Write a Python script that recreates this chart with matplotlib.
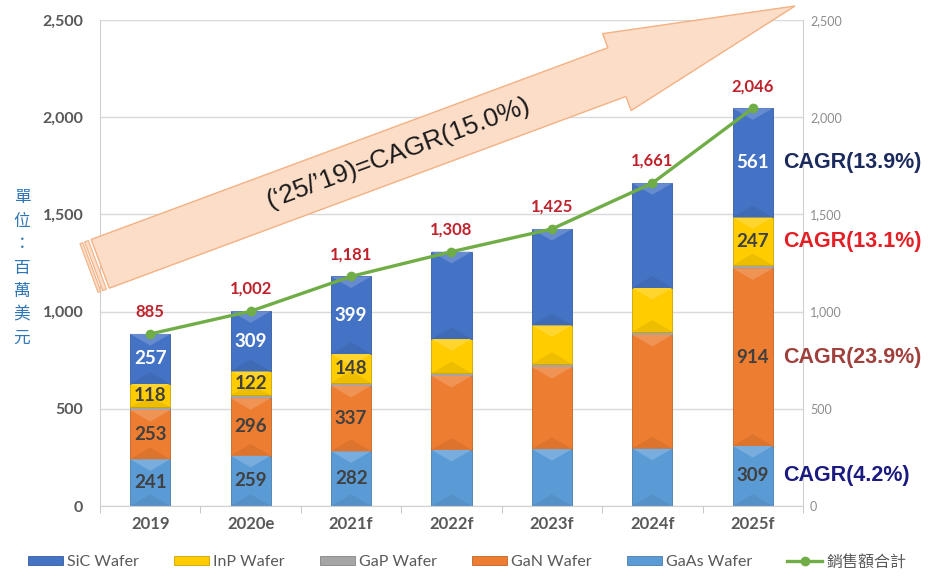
import numpy as np
import matplotlib
matplotlib.use('Agg')
import matplotlib.pyplot as plt
from matplotlib.patches import Polygon
from matplotlib.colors import to_rgb

years = ['2019', '2020e', '2021f', '2022f', '2023f', '2024f', '2025f']
gaas = [241, 259, 282, 289, 293, 296, 309]
gan = [253, 296, 337, 380, 422, 585, 914]
gap = [16, 16, 15, 14, 15, 15, 15]
inp = [118, 122, 148, 176, 200, 226, 247]
sic = [257, 309, 399, 449, 495, 539, 561]
total = [885, 1002, 1181, 1308, 1425, 1661, 2046]
labeled = [True, True, True, False, False, False, True]

series_names = ['GaAs Wafer', 'GaN Wafer', 'GaP Wafer', 'InP Wafer', 'SiC Wafer']
series_vals = [gaas, gan, gap, inp, sic]
series_cols = ['#5B9BD5', '#ED7D31', '#A5A5A5', '#FFCC00', '#4472C4']
label_cols = ['#404040', '#404040', None, '#404040', 'white']

cagr_text = ['CAGR(4.2%)', 'CAGR(23.9%)', None, 'CAGR(13.1%)', 'CAGR(13.9%)']
cagr_cols = ['#1A1A80', '#A0403C', None, '#E31E24', '#1B2A5C']

W, H = 936, 577
fig = plt.figure(figsize=(W / 100, H / 100), dpi=100)
ax = fig.add_axes([100 / W, 1 - 506 / H, 703 / W, 486 / H])

x = np.arange(len(years))
bw = 0.40


def mix(c, other, t):
    c = np.array(to_rgb(c))
    return tuple(c * (1 - t) + np.array(other) * t)


bottom = np.zeros(len(years))
bars = {}
for name, vals, col in zip(series_names, series_vals, series_cols):
    vals = np.array(vals, dtype=float)
    b = ax.bar(x, vals, bw, bottom=bottom, color=col, edgecolor=mix(col, (0, 0, 0), 0.2),
               linewidth=0.6, zorder=2, label=name)
    bars[name] = b
    # soft bevel look
    for xi, b0, h in zip(x, bottom, vals):
        if h < 40:
            continue
        d = min(h * 0.4, 60)
        x0, x1 = xi - bw / 2, xi + bw / 2
        ax.add_patch(Polygon([(x0, b0 + h), (x1, b0 + h), (xi, b0 + h - d)],
                             closed=True, color=mix(col, (1, 1, 1), 0.18), lw=0, zorder=2.1))
        ax.add_patch(Polygon([(x0, b0), (x1, b0), (xi, b0 + d)],
                             closed=True, color=mix(col, (0, 0, 0), 0.07), lw=0, zorder=2.1))
    bottom = bottom + vals

# value labels inside the bars
bottom = np.zeros(len(years))
for vals, lc in zip(series_vals, label_cols):
    vals = np.array(vals, dtype=float)
    if lc is not None:
        for xi, b0, v, show in zip(x, bottom, vals, labeled):
            if show:
                ax.text(xi, b0 + v / 2, f'{int(v)}', ha='center', va='center',
                        color=lc, fontsize=13.5, fontweight='bold', family='Lato', zorder=4)
    bottom = bottom + vals

# total line
ax.plot(x, total, color='#70AD47', lw=2.4, marker='o', ms=6, zorder=5, label='銷售額合計')
for xi, t in zip(x, total):
    ax.annotate(f'{t:,}', (xi, t), xytext=(0, 16), textcoords='offset points',
                ha='center', va='center', color='#C0222B', fontsize=12,
                fontweight='bold', family='Lato', zorder=6)

# CAGR texts next to last bar
bottom = 0
for vals, txt, col in zip(series_vals, cagr_text, cagr_cols):
    v = vals[-1]
    if txt is not None:
        ax.text(6.30, bottom + v / 2, txt, ha='left', va='center', color=col,
                fontsize=15.5, fontweight='bold', family='Liberation Sans',
                clip_on=False, zorder=6)
    bottom += v

ax.set_xlim(-0.5, 6.5)
ax.set_ylim(0, 2500)
ax.set_yticks(np.arange(0, 2501, 500))
ax.set_yticklabels([f'{v:,}' for v in range(0, 2501, 500)])
ax.set_xticks(x)
ax.set_xticklabels(years)
ax.set_xticks(np.arange(-0.5, 7, 1), minor=True)
ax.tick_params(axis='x', which='major', length=0, pad=7, labelsize=12, labelcolor='#595959')
ax.tick_params(axis='x', which='minor', length=5, color='#BFBFBF')
ax.tick_params(axis='y', length=0, pad=12, labelsize=11.5, labelcolor='#595959')
for lab in ax.get_xticklabels() + ax.get_yticklabels():
    lab.set_fontfamily('Lato')
    lab.set_fontweight('bold')
ax.grid(axis='y', color='#D9D9D9', lw=1, zorder=0)
ax.set_axisbelow(True)
for s in ['left', 'right', 'bottom', 'top']:
    ax.spines[s].set_color('#D0D0D0')
ax.spines['top'].set_visible(False)

ax2 = ax.twinx()
ax2.set_ylim(0, 2500)
ax2.set_yticks(np.arange(0, 2501, 500))
ax2.set_yticklabels([f'{v:,}' for v in range(0, 2501, 500)])
ax2.tick_params(axis='y', length=0, pad=5, labelsize=9, labelcolor='#8C8C8C')
for lab in ax2.get_yticklabels():
    lab.set_fontfamily('Lato')
for s in ['left', 'right', 'bottom', 'top']:
    ax2.spines[s].set_visible(False)

# y label (vertical CJK)
fig.text(22 / W, 1 - 268 / H, '\n'.join('單位：百萬美元'), ha='center', va='center',
         color='#2E75B6', fontsize=12, family='Noto Sans CJK TC', linespacing=1.5)

# big arrow
def px(p):
    return (p[0] / W, 1 - p[1] / H)

tail = np.array([89.0, 268.0])
tip = np.array([795.0, 6.0])
u = (tip - tail) / np.linalg.norm(tip - tail)
n = np.array([-u[1], u[0]])
L = np.linalg.norm(tip - tail)
hw, headw, headl = 26.0, 41.0, 190.0
fill = '#FBDDC8'
edge = '#F4B183'

def seg(a, b):
    p0 = tail + u * a
    p1 = tail + u * b
    return [p0 + n * hw, p1 + n * hw, p1 - n * hw, p0 - n * hw]

for a, b in [(0, 3), (5, 9)]:
    fig.patches.append(Polygon([px(p) for p in seg(a, b)], closed=True,
                               transform=fig.transFigure, facecolor=fill,
                               edgecolor=edge, lw=0.8, zorder=1))
base = tail + u * (L - headl)
body = [tail + u * 12 + n * hw, base + n * hw, base + n * headw, tip,
        base - n * headw, base - n * hw, tail + u * 12 - n * hw]
fig.patches.append(Polygon([px(p) for p in body], closed=True, transform=fig.transFigure,
                           facecolor=fill, edgecolor=edge, lw=1.0, zorder=1))
ang = np.degrees(np.arctan2(-(tip[1] - tail[1]), tip[0] - tail[0]))
c = tail + u * 330
fig.text(*px(c), "(‘25/’19)=CAGR(15.0%)", rotation=ang, rotation_mode='anchor',
         ha='center', va='center', fontsize=19, family='Liberation Sans',
         color='#1A1A1A', zorder=2)

# legend
handles = [bars['SiC Wafer'], bars['InP Wafer'], bars['GaP Wafer'], bars['GaN Wafer'],
           bars['GaAs Wafer'], ax.lines[0]]
labels = ['SiC Wafer', 'InP Wafer', 'GaP Wafer', 'GaN Wafer', 'GaAs Wafer', '銷售額合計']
leg = fig.legend(handles, labels, loc='center', bbox_to_anchor=(467 / W, 1 - 562 / H),
                 ncol=6, frameon=False, handlelength=2.2, handleheight=0.5,
                 handletextpad=0.25, columnspacing=2.2,
                 prop={'family': ['Lato', 'Noto Sans CJK TC'], 'size': 11.5})
for t in leg.get_texts():
    t.set_color('#595959')

fig.savefig('out.png', dpi=100)
